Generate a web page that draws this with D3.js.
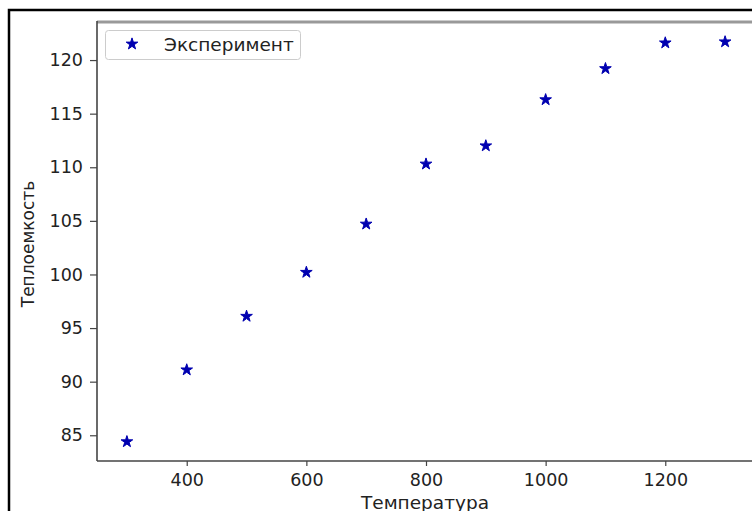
<!DOCTYPE html>
<html>
<head>
<meta charset="utf-8">
<script src="https://cdn.jsdelivr.net/npm/d3@7"></script>
<style>
  body { margin: 0; background: #fff; }
  svg text { font-family: "DejaVu Sans", sans-serif; fill: #222; }
</style>
</head>
<body>
<div id="canvas"></div>
<script>
const temps = [300, 400, 500, 600, 700, 800, 900, 1000, 1100, 1200, 1300];
const heat = [84.4, 91.1, 96.1, 100.2, 104.7, 110.3, 112.0, 116.3, 119.2, 121.6, 121.7];
const xTicks = [400, 600, 800, 1000, 1200];
const yTicks = [85, 90, 95, 100, 105, 110, 115, 120];
const seriesName = "Эксперимент";

const w = 752, h = 511;
const margin = { top: 22, bottom: 50, left: 97, right: -3 };

const svg = d3.select("#canvas").append("svg")
  .attr("width", w).attr("height", h);

// screenshot frame
svg.append("path")
  .attr("d", "M9," + h + "V10H" + w)
  .attr("fill", "none").attr("stroke", "#000").attr("stroke-width", 2.5);

const x = d3.scaleLinear().domain([250, 1350]).range([margin.left, w - margin.right]);
const y = d3.scaleLinear().domain([82.6, 123.55]).range([h - margin.bottom, margin.top]);

// spines
svg.append("line").attr("x1", margin.left).attr("x2", w)
  .attr("y1", margin.top).attr("y2", margin.top)
  .attr("stroke", "#999").attr("stroke-width", 3);
svg.append("line").attr("x1", margin.left).attr("x2", margin.left)
  .attr("y1", margin.top - 1).attr("y2", h - margin.bottom)
  .attr("stroke", "#444").attr("stroke-width", 1.6);
svg.append("line").attr("x1", margin.left).attr("x2", w)
  .attr("y1", h - margin.bottom).attr("y2", h - margin.bottom)
  .attr("stroke", "#444").attr("stroke-width", 1.6);

const xAxis = svg.append("g")
  .attr("transform", "translate(0," + (h - margin.bottom) + ")")
  .call(d3.axisBottom(x).tickValues(xTicks).tickSize(5).tickPadding(8).tickFormat(d3.format("d")));
xAxis.select(".domain").remove();
xAxis.selectAll("line").attr("stroke", "#444").attr("stroke-width", 1.2);
xAxis.selectAll("text").style("font-size", "17.5px").attr("fill", "#222");

const yAxis = svg.append("g")
  .attr("transform", "translate(" + margin.left + ",0)")
  .call(d3.axisLeft(y).tickValues(yTicks).tickSize(7).tickPadding(7).tickFormat(d3.format("d")));
yAxis.select(".domain").remove();
yAxis.selectAll("line").attr("stroke", "#444").attr("stroke-width", 1.2);
yAxis.selectAll("text").style("font-size", "17.5px").attr("fill", "#222");

svg.append("text")
  .attr("x", 425).attr("y", 509)
  .attr("text-anchor", "middle")
  .style("font-size", "18.5px")
  .text("Температура");

svg.append("text")
  .attr("transform", "translate(34,244) rotate(-90)")
  .attr("text-anchor", "middle")
  .style("font-size", "17px")
  .text("Теплоемкость");

const star = d3.symbol().type(d3.symbolStar).size(42);

svg.append("g").selectAll("path")
  .data(temps)
  .enter().append("path")
    .attr("d", star)
    .attr("transform", (d, i) => "translate(" + x(d) + "," + y(heat[i]) + ")")
    .attr("fill", "#0000b0")
    .attr("stroke", "#0000b0").attr("stroke-width", 1);

// legend
const legend = svg.append("g");
legend.append("rect")
  .attr("x", 105.5).attr("y", 30.5).attr("width", 195).attr("height", 29).attr("rx", 3)
  .attr("fill", "#fff").attr("stroke", "#ccc");
legend.append("path")
  .attr("d", star)
  .attr("transform", "translate(132,44)")
  .attr("fill", "#0000b0").attr("stroke", "#0000b0").attr("stroke-width", 1);
legend.append("text")
  .attr("x", 164).attr("y", 51)
  .style("font-size", "18.5px")
  .text(seriesName);
</script>
</body>
</html>
